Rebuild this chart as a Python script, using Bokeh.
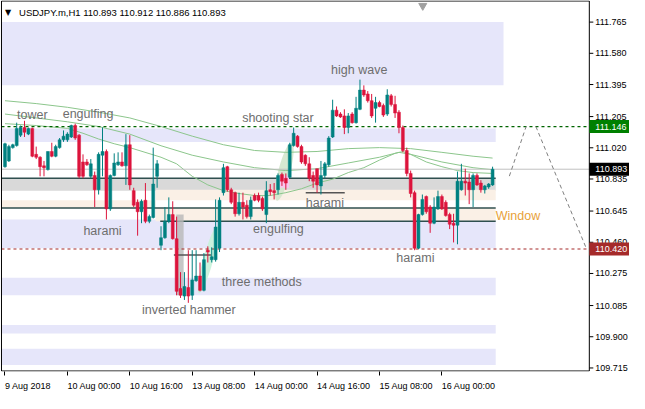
from bokeh.plotting import figure
from bokeh.models import ColumnDataSource, FixedTicker, Label, Range1d
from bokeh.core.properties import value
from bokeh.embed import file_html
from bokeh.resources import INLINE

# ---------------- data ----------------
opens = [110.908, 110.942, 111.021, 111.033, 111.095, 111.140, 111.101, 111.135, 110.981, 110.964,
         110.913, 110.891, 110.998, 110.970, 111.021, 111.067, 111.067, 111.084, 111.152, 111.095,
         110.936, 110.936, 110.851, 110.856, 110.771, 110.976, 110.998, 110.658, 110.856, 110.919,
         110.936, 110.913, 111.038, 110.766, 110.697, 110.641, 110.709, 110.584, 110.607, 110.851,
         110.442, 110.487, 110.584, 110.624, 110.481, 110.186, 110.141, 110.192, 110.146, 110.232,
         110.260, 110.175, 110.413, 110.357, 110.357, 110.425, 110.754, 110.908, 110.771, 110.754,
         110.629, 110.697, 110.680, 110.612, 110.737, 110.737, 110.720, 110.624, 110.771, 110.766,
         110.771, 110.862, 110.839, 110.845, 111.033, 111.089, 111.027, 110.976, 110.925, 110.856,
         110.896, 110.794, 110.856, 110.919, 111.084, 111.243, 111.220, 111.209, 111.140, 111.220,
         111.169, 111.248, 111.362, 111.339, 111.299, 111.254, 111.288, 111.271, 111.220, 111.328,
         111.277, 111.231, 111.140, 111.004, 110.868, 110.754, 110.425, 110.624, 110.731, 110.669,
         110.573, 110.658, 110.731, 110.697, 110.624, 110.573, 110.561, 110.771, 110.822, 110.817,
         110.771, 110.856, 110.811, 110.771, 110.788, 110.800]
highs = [111.050, 111.038, 111.044, 111.169, 111.152, 111.180, 111.140, 111.140, 111.027, 110.970,
         110.942, 110.998, 111.050, 111.038, 111.078, 111.123, 111.112, 111.157, 111.163, 111.101,
         110.981, 110.953, 110.953, 110.879, 110.993, 111.140, 111.010, 110.862, 110.987, 110.993,
         110.993, 111.101, 111.095, 110.783, 110.714, 110.714, 110.811, 110.624, 111.021, 110.947,
         110.555, 110.669, 110.726, 110.703, 110.612, 110.283, 110.283, 110.413, 110.413, 110.413,
         110.340, 110.396, 110.436, 110.430, 110.714, 110.726, 110.925, 110.913, 110.783, 110.760,
         110.754, 110.754, 110.709, 110.731, 110.749, 110.754, 110.731, 110.822, 110.805, 110.811,
         110.868, 110.873, 110.868, 111.050, 111.140, 111.095, 111.038, 110.981, 110.964, 110.879,
         110.896, 110.942, 110.936, 111.089, 111.305, 111.265, 111.231, 111.248, 111.226, 111.231,
         111.322, 111.424, 111.390, 111.356, 111.339, 111.322, 111.299, 111.282, 111.367, 111.339,
         111.328, 111.243, 111.152, 111.021, 110.885, 110.766, 110.629, 110.743, 110.737, 110.680,
         110.726, 110.766, 110.743, 110.709, 110.635, 110.629, 110.879, 110.925, 110.896, 110.868,
         110.868, 110.868, 110.828, 110.800, 110.811, 110.908]
lows = [110.902, 110.936, 111.015, 111.027, 111.084, 111.084, 111.095, 110.964, 110.953, 110.851,
        110.851, 110.885, 110.964, 110.964, 111.015, 111.055, 111.055, 111.078, 111.067, 110.839,
        110.839, 110.913, 110.839, 110.669, 110.743, 110.851, 110.595, 110.646, 110.851, 110.913,
        110.908, 110.800, 110.771, 110.669, 110.499, 110.573, 110.573, 110.573, 110.601, 110.783,
        110.413, 110.481, 110.573, 110.476, 110.146, 110.130, 110.118, 110.101, 110.118, 110.226,
        110.169, 110.169, 110.340, 110.340, 110.345, 110.402, 110.737, 110.760, 110.686, 110.612,
        110.618, 110.595, 110.601, 110.595, 110.703, 110.697, 110.646, 110.573, 110.737, 110.714,
        110.743, 110.794, 110.771, 110.839, 111.027, 111.021, 110.925, 110.913, 110.822, 110.783,
        110.754, 110.743, 110.839, 110.908, 111.078, 111.203, 111.197, 111.101, 111.106, 111.163,
        111.163, 111.243, 111.322, 111.288, 111.197, 111.169, 111.260, 111.203, 111.209, 111.265,
        111.197, 111.106, 110.993, 110.851, 110.726, 110.413, 110.419, 110.618, 110.629, 110.516,
        110.567, 110.652, 110.652, 110.612, 110.538, 110.459, 110.448, 110.766, 110.737, 110.686,
        110.669, 110.794, 110.754, 110.749, 110.777, 110.794]
closes = [111.044, 111.027, 111.038, 111.135, 111.140, 111.112, 111.135, 110.970, 110.964, 110.908,
          110.902, 110.998, 110.970, 111.027, 111.067, 111.089, 111.101, 111.152, 111.078, 110.851,
          110.851, 110.919, 110.925, 110.771, 110.981, 110.998, 110.658, 110.856, 110.930, 110.936,
          110.913, 111.038, 110.800, 110.680, 110.641, 110.703, 110.584, 110.612, 110.805, 110.925,
          110.487, 110.584, 110.624, 110.481, 110.169, 110.146, 110.198, 110.141, 110.237, 110.260,
          110.175, 110.357, 110.402, 110.374, 110.550, 110.709, 110.902, 110.771, 110.697, 110.629,
          110.697, 110.669, 110.612, 110.709, 110.709, 110.709, 110.658, 110.766, 110.760, 110.754,
          110.856, 110.822, 110.811, 111.038, 111.106, 111.027, 110.936, 110.925, 110.839, 110.822,
          110.800, 110.856, 110.925, 111.078, 111.243, 111.209, 111.203, 111.140, 111.209, 111.169,
          111.254, 111.362, 111.333, 111.299, 111.209, 111.288, 111.265, 111.214, 111.333, 111.277,
          111.226, 111.140, 111.004, 110.868, 110.749, 110.425, 110.624, 110.714, 110.641, 110.573,
          110.669, 110.731, 110.658, 110.618, 110.567, 110.561, 110.822, 110.822, 110.811, 110.771,
          110.856, 110.800, 110.771, 110.794, 110.805, 110.893]

# moving averages, read at selected bars
ma_slow_x = [0, 8, 16, 24, 32, 40, 48, 56, 64, 72, 80, 88, 96, 104, 112, 120, 125]
ma_slow = [111.299, 111.282, 111.260, 111.231, 111.197, 111.146, 111.089, 111.038, 111.004, 110.993,
           110.998, 111.015, 111.021, 111.015, 110.993, 110.970, 110.959]
ma_mid_x = [0, 8, 16, 24, 32, 40, 48, 56, 64, 72, 80, 88, 96, 101, 104, 112, 120, 125]
ma_mid = [111.220, 111.197, 111.174, 111.146, 111.101, 111.032, 110.976, 110.936, 110.902, 110.885,
          110.896, 110.930, 110.964, 110.993, 110.981, 110.936, 110.902, 110.890]
ma_fast_x = [0, 8, 16, 20, 24, 28, 32, 40, 44, 48, 52, 56, 60, 64, 68, 72, 76, 80, 84, 88, 92, 96,
             100, 102, 104, 108, 112, 116, 120, 125]
ma_fast = [111.163, 111.152, 111.135, 111.106, 111.072, 111.044, 111.021, 110.964, 110.925, 110.851,
           110.800, 110.766, 110.749, 110.737, 110.737, 110.754, 110.777, 110.811, 110.834, 110.873,
           110.902, 110.947, 110.987, 110.998, 110.981, 110.936, 110.908, 110.885, 110.873, 110.868]

# time axis
tick_bars = [0, 16, 32, 48, 64, 80, 96, 112]
tick_labels = ["9 Aug 2018", "10 Aug 00:00", "10 Aug 16:00", "13 Aug 08:00", "14 Aug 00:00",
               "14 Aug 16:00", "15 Aug 08:00", "16 Aug 00:00"]
# price axis
price_ticks = [111.765, 111.580, 111.395, 111.205, 111.020, 110.835, 110.645, 110.460, 110.275,
               110.085, 109.900, 109.715]

# zones (price top / bottom, bar left / right)
lav_top = [111.765, 111.135, 110.595, 110.249, 109.970, 109.829]
lav_bot = [111.390, 111.055, 110.425, 110.146, 109.919, 109.733]
lav_right = [127.8, 125.8, 125.8, 125.8, 125.8, 125.8]
gray_zone = (110.840, 110.765)
beige_left = (110.709, 110.663)
beige_right_top = (110.771, 110.709)
beige_right_bot = (110.663, 110.584)
zone_lines = [110.840, 110.663, 110.584]
resistance = 111.146
support = 110.420
last_price = 110.893

patterns = [("tower", 3.1, 111.214), ("engulfing", 14.8, 111.220), ("harami", 20.1, 110.527),
            ("inverted hammer", 35.1, 110.056), ("three methods", 55.6, 110.226),
            ("engulfing", 63.6, 110.538), ("shooting star", 60.8, 111.197), ("harami", 77.1, 110.692),
            ("high wave", 83.6, 111.481), ("harami", 100.3, 110.368)]

zig1_x = [129.3, 133.6]
zig1_y = [110.852, 111.146]
zig2_x = [136.1, 149.1]
zig2_y = [111.146, 110.420]

# ---------------- figure ----------------
FONT = "Liberation Sans"
W, H = 629, 393
BOTTOM = 22                   # room for the time scale
XL, XR, XEND = -0.9, 149.8, 160.1   # chart left edge, chart right edge (price scale starts), canvas right
Y0, Y1 = 109.697, 111.890
PX_PER_BAR = W / (XEND - (XL - 0.25))

p = figure(width=W, height=H, x_range=Range1d(XL - 0.25, XEND), y_range=Range1d(Y0 - 0.003, Y1 + 0.003),
           output_backend="svg", toolbar_location=None,
           min_border_left=0, min_border_top=0, min_border_right=0, min_border_bottom=BOTTOM)
p.xgrid.visible = False
p.ygrid.visible = False
p.yaxis.visible = False
p.outline_line_color = None
p.background_fill_color = "white"
p.border_fill_color = "white"

LAV = "#E6E6FA"
BEIGE = "#FAF0E6"
n = len(opens)
L = XL
R = 125.8

# zones
p.quad(left=[L] * len(lav_top), right=lav_right, top=lav_top, bottom=lav_bot,
       fill_color=LAV, line_color=None)
p.quad(left=[L], right=[R], top=[gray_zone[0]], bottom=[gray_zone[1]], fill_color="#D9D9D9", line_color=None)
p.quad(left=[L], right=[38.6], top=[beige_left[0]], bottom=[beige_left[1]], fill_color=BEIGE, line_color=None)
p.quad(left=[38.6, 38.6], right=[R, R], top=[beige_right_top[0], beige_right_bot[0]],
       bottom=[beige_right_top[1], beige_right_bot[1]], fill_color=BEIGE, line_color=None)
p.segment(x0=[L, L, 39.8], x1=[R, R, R], y0=zone_lines, y1=zone_lines, line_color="#2F4F4F", line_width=1.5)

# pattern highlights
p.quad(left=[43.9], right=[45.8], top=[110.624], bottom=[110.146], fill_color="#B8B8B8",
       fill_alpha=0.8, line_color=None)
p.ellipse(x=[52.1], y=[110.357], width=10, height=70, angle=-0.27, width_units="screen",
          height_units="screen", fill_color="#C8F2DA", fill_alpha=0.9, line_color=None)
p.ellipse(x=[71.6], y=[110.879], width=12, height=60, angle=-0.25, width_units="screen",
          height_units="screen", fill_color="#D3E6CC", fill_alpha=0.9, line_color=None)
p.quad(left=[69.8], right=[72.8], top=[110.856], bottom=[110.783], fill_color="#F8C6EE", line_color=None)
p.segment(x0=[43.3, 77.1], x1=[52.8, 87.1], y0=[110.385, 110.754], y1=[110.385, 110.754],
          line_color="#555555", line_width=1.5)

# moving averages
MA_COL = "#8CC68C"
p.line(ma_slow_x, ma_slow, line_color=MA_COL, line_width=1)
p.line(ma_mid_x, ma_mid, line_color=MA_COL, line_width=1)
p.line(ma_fast_x, ma_fast, line_color=MA_COL, line_width=1)

# price lines across the chart area
p.segment(x0=[XL], x1=[XR], y0=[last_price], y1=[last_price], line_color="#C0C0C0", line_width=1)
p.segment(x0=[XL], x1=[XR], y0=[resistance], y1=[resistance], line_color="#006400", line_width=1.2,
          line_dash="3 3")
p.segment(x0=[XL], x1=[XR], y0=[support], y1=[support], line_color="#A52A2A", line_width=1.2,
          line_dash="3 3")

# candles
UP = "#008080"
DN = "#DC143C"
cols = [UP if c >= o else DN for o, c in zip(opens, closes)]
src = ColumnDataSource(dict(x=list(range(n)), o=opens, h=highs, l=lows, c=closes,
                            top=[max(a, b) for a, b in zip(opens, closes)],
                            bot=[min(a, b) for a, b in zip(opens, closes)], col=cols))
p.segment(x0="x", x1="x", y0="l", y1="h", line_color="col", line_width=1, source=src)
p.vbar(x="x", width=0.75, top="top", bottom="bot", fill_color="col", line_color="col",
       line_width=0.5, source=src)

# projection zigzag
p.line(zig1_x, zig1_y, line_color="#808080", line_width=1, line_dash="4 3")
p.line(zig2_x, zig2_y, line_color="#808080", line_width=1, line_dash="4 3")

# shift marker
p.scatter(x=[107.1], y=[111.862], marker="inverted_triangle", size=8, color="#A0A0A0")

# pattern labels
for txt, xx, yy in patterns:
    p.add_layout(Label(x=xx, y=yy, text=txt, text_font=FONT, text_font_size="12.5px",
                       text_color="#6E6E6E", text_baseline="middle", text_align="left"))
p.add_layout(Label(x=125.8, y=110.618, text="Window", text_font=FONT, text_font_size="12.5px",
                   text_color="#E8A23A", text_baseline="middle", text_align="left"))

# header
p.add_layout(Label(x=0.0, y=111.822, text="\u25BC", text_font="DejaVu Sans", text_font_size="8px",
                   text_color="black", text_baseline="middle", text_align="left"))
p.add_layout(Label(x=3.6, y=111.822, text="USDJPY.m,H1  110.893 110.912 110.886 110.893",
                   text_font=FONT, text_font_size="9.5px", text_color="black",
                   text_baseline="middle", text_align="left"))

# chart frame (left, top, right, bottom)
p.segment(x0=[XL, XL, XR, XL], x1=[XL, XR, XR, XR], y0=[Y0, Y1, Y0, Y0], y1=[Y1, Y1, Y1, Y0],
          line_color="black", line_width=1)

# price scale on the right of the chart area
tick_len = 4 / PX_PER_BAR
p.segment(x0=[XR] * len(price_ticks), x1=[XR + tick_len] * len(price_ticks), y0=price_ticks, y1=price_ticks,
          line_color="black", line_width=1)
p.text(x=[XR + 6 / PX_PER_BAR] * len(price_ticks), y=price_ticks, text=["%.3f" % v for v in price_ticks],
       text_font=value(FONT), text_font_size="9px", text_color="black", text_baseline="middle",
       text_align="left")

# price boxes on the scale
box_vals = [resistance, last_price, support]
box_cols = ["#008000", "#000000", "#A52A2A"]
p.rect(x=[XR + 21 / PX_PER_BAR] * 3, y=box_vals, width=42, height=13, width_units="screen",
       height_units="screen", fill_color=box_cols, line_color=None)
p.text(x=[XR + 6 / PX_PER_BAR] * 3, y=box_vals, text=["%.3f" % v for v in box_vals],
       text_font=value(FONT), text_font_size="9px", text_color="white", text_baseline="middle",
       text_align="left")

# time scale: minor ticks mark the bars, labels start at their bar (left aligned)
LABEL_FONT_PX = 9
CHAR_W = {" ": 0.278, "A": 0.667, "u": 0.556, "g": 0.556, ":": 0.278}
def text_w(s):
    return sum(CHAR_W.get(ch, 0.556) for ch in s) * LABEL_FONT_PX
centers = [b + text_w(t) / 2 / PX_PER_BAR for b, t in zip(tick_bars, tick_labels)]
xa = p.xaxis[0]
xa.ticker = FixedTicker(ticks=centers, minor_ticks=tick_bars)
xa.major_label_overrides = {c: t for c, t in zip(centers, tick_labels)}
xa.major_label_text_font = FONT
xa.major_label_text_font_size = "%dpx" % LABEL_FONT_PX
xa.major_label_text_color = "black"
xa.major_tick_line_color = None
xa.major_tick_out = 0
xa.major_tick_in = 0
xa.minor_tick_line_color = "black"
xa.minor_tick_out = 4
xa.minor_tick_in = 0
xa.major_label_standoff = 5
xa.axis_line_color = None

open("out.html", "w").write(file_html(p, INLINE))
